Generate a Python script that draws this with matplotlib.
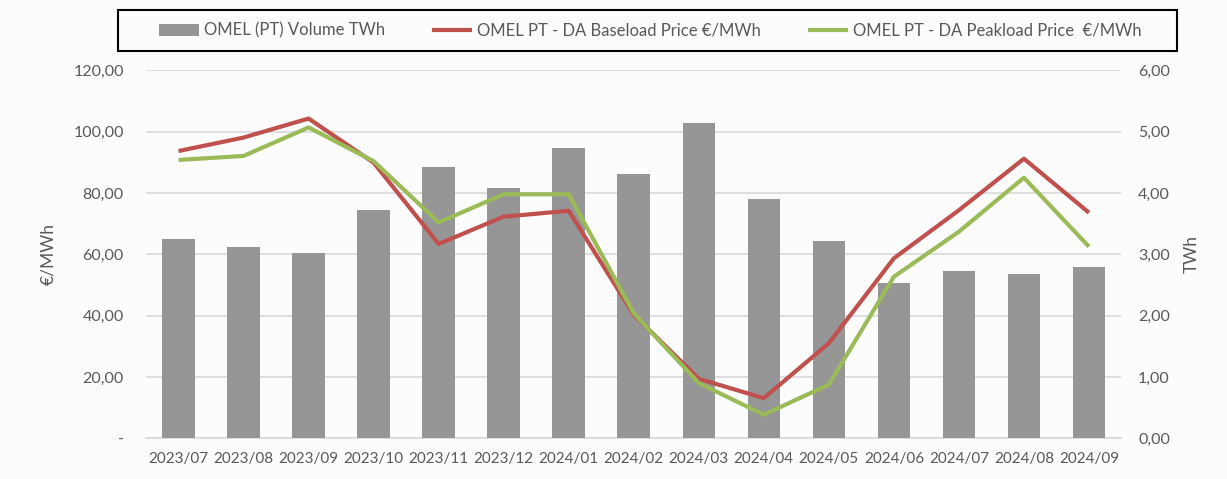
import matplotlib.pyplot as plt
from matplotlib.patches import Rectangle
from matplotlib.ticker import FuncFormatter

plt.rcParams['font.family'] = ['Lato', 'DejaVu Sans']

months = ["2023/07", "2023/08", "2023/09", "2023/10", "2023/11", "2023/12", "2024/01",
          "2024/02", "2024/03", "2024/04", "2024/05", "2024/06", "2024/07", "2024/08", "2024/09"]
volume_twh = [3.25, 3.12, 3.03, 3.72, 4.42, 4.09, 4.73, 4.31, 5.14, 3.90, 3.21, 2.53, 2.73, 2.68, 2.79]
baseload = [93.7, 98.1, 104.3, 89.9, 63.4, 72.3, 74.2, 40.3, 19.4, 13.1, 31.0, 58.7, 74.4, 91.2, 73.6]
peakload = [90.8, 92.1, 101.4, 90.4, 70.4, 79.6, 79.6, 40.8, 18.0, 7.7, 17.5, 52.7, 67.4, 85.0, 62.5]

txt = "#595959"
bg = "#fcfcfc"

fig = plt.figure(figsize=(12.27, 4.79), dpi=100, facecolor=bg)
ax = fig.add_axes([0.119, 0.085, 0.795, 0.768])
ax.set_facecolor(bg)
ax2 = ax.twinx()

x = range(len(months))
bars = ax2.bar(x, volume_twh, width=0.5, color="#969696", zorder=2,
               label="OMEL (PT) Volume TWh")
ax2.set_ylim(0, 6)
ax2.set_yticks([0, 1, 2, 3, 4, 5, 6])
ax2.yaxis.set_major_formatter(FuncFormatter(lambda v, p: f"{v:.2f}".replace(".", ",")))

# lines drawn on a separate twin so they sit above the bars
ax3 = ax.twinx()
ax3.set_ylim(0, 120)
ax3.axis("off")
l1, = ax3.plot(x, baseload, color="#c0504d", lw=3, solid_capstyle="butt",
               label="OMEL PT - DA Baseload Price €/MWh")
l2, = ax3.plot(x, peakload, color="#9bbb59", lw=3, solid_capstyle="butt",
               label="OMEL PT - DA Peakload Price  €/MWh")

ax.set_ylim(0, 120)
ax.set_yticks(range(0, 121, 20))
ax.yaxis.set_major_formatter(FuncFormatter(
    lambda v, p: "-" if v == 0 else f"{v:.2f}".replace(".", ",")))
ax.set_xlim(-0.5, len(months) - 0.5)
ax.set_xticks(list(x))
ax.set_xticklabels(months)
ax.grid(axis="y", color="#d9d9d9", lw=1.2, zorder=0)
ax.set_axisbelow(True)

for a in (ax, ax2, ax3):
    for s in a.spines.values():
        s.set_visible(False)
ax.spines["bottom"].set_visible(True)
ax.spines["bottom"].set_color("#d9d9d9")
ax.spines["bottom"].set_linewidth(1.2)

ax.tick_params(axis="both", length=0, colors=txt, labelsize=11.5)
ax.tick_params(axis="x", pad=10, labelsize=11)
ax.tick_params(axis="y", pad=16)
ax2.tick_params(axis="y", length=0, colors=txt, labelsize=11.5, pad=12)

ax.set_ylabel("€/MWh", color=txt, fontsize=12.5, labelpad=12)
ax2.set_ylabel("TWh", color=txt, fontsize=12.5, labelpad=10)

# legend box drawn separately so the inner padding can be wider than the vertical one
fig.patches.append(Rectangle((0.0962, 0.8935), 0.863, 0.0856, transform=fig.transFigure,
                             fill=False, edgecolor="black", lw=1.5))
fig.legend(handles=[bars, l1, l2], loc="center", ncol=3,
           bbox_to_anchor=(0.530, 0.936), frameon=False,
           fontsize=12, labelcolor=txt, handlelength=2.4, handletextpad=0.3,
           columnspacing=2.8, borderaxespad=0)

fig.savefig("out.png", dpi=100, facecolor=bg)
